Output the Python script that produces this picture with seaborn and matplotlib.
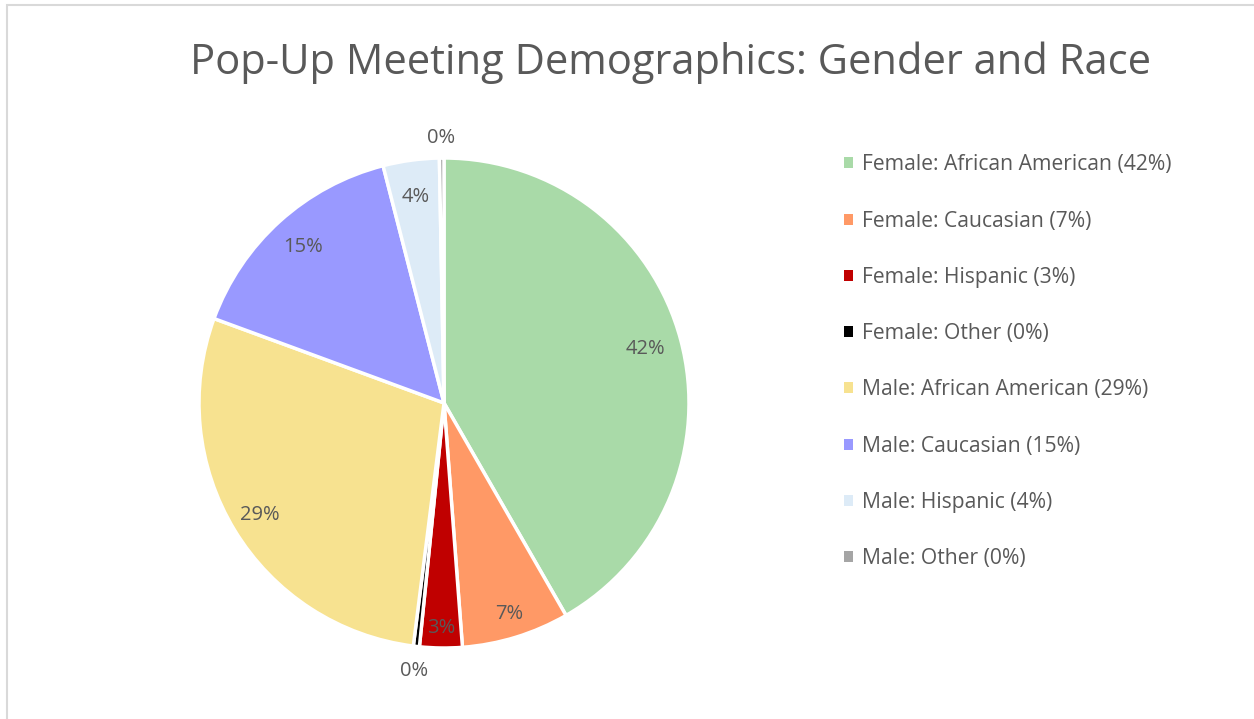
import numpy as np
import matplotlib
matplotlib.use('Agg')
import matplotlib.pyplot as plt
import matplotlib.patches as mpatches
import seaborn as sns

# --- data ---
categories = ['Female: African American', 'Female: Caucasian', 'Female: Hispanic',
              'Female: Other', 'Male: African American', 'Male: Caucasian',
              'Male: Hispanic', 'Male: Other']
shares = [41.7, 7.1, 2.8, 0.4, 28.6, 15.4, 3.7, 0.3]
slice_colors = ['#A9DAA8', '#FF9966', '#C00000', '#000000',
                '#F7E290', '#9999FF', '#DDEBF7', '#A5A5A5']
# how far out each percentage label sits (fraction of radius)
label_dist = [0.85, 0.90, 0.92, 1.10, 0.88, 0.86, 0.85, 1.08]

sns.set_theme(style='white')
plt.rcParams['font.family'] = ['Open Sans', 'DejaVu Sans']
text_color = '#595959'

fig = plt.figure(figsize=(12.54, 7.19), dpi=100)
fig.patch.set_facecolor('white')

# chart border
fig.add_artist(mpatches.Rectangle((7 / 1254, -0.01), 1.0, 1.0 - 5 / 719 + 0.01,
                                  transform=fig.transFigure, fill=False,
                                  edgecolor='#D9D9D9', linewidth=1.5))

cx, cy, r = 444, 403, 245
ax = fig.add_axes([(cx - r) / 1254, (719 - cy - r) / 719, 2 * r / 1254, 2 * r / 719])

wedges, _ = ax.pie(shares, colors=slice_colors, startangle=90, counterclock=False,
                   wedgeprops=dict(edgecolor='white', linewidth=2.5))
ax.set_xlim(-1, 1)
ax.set_ylim(-1, 1)
ax.set_aspect('equal')
ax.axis('off')

total = sum(shares)
pct_labels = [f'{round(v / total * 100):.0f}%' for v in shares]
for w, lab, d in zip(wedges, pct_labels, label_dist):
    mid = np.deg2rad((w.theta1 + w.theta2) / 2)
    ax.text(d * np.cos(mid), d * np.sin(mid), lab, ha='center', va='center',
            fontsize=14.5, color=text_color, clip_on=False)

fig.text(0.535, 0.913, 'Pop-Up Meeting Demographics: Gender and Race',
         ha='center', va='center', fontsize=30, color=text_color)

handles = [mpatches.Patch(facecolor=c, edgecolor='none') for c in slice_colors]
legend_labels = [f'{c} ({p})' for c, p in zip(categories, pct_labels)]
leg = fig.legend(handles, legend_labels, loc='upper left', bbox_to_anchor=(0.666, 0.797),
                 frameon=False, fontsize=15.2, handlelength=0.43, handleheight=0.43,
                 handletextpad=0.43, labelspacing=1.67, borderaxespad=0)
for t in leg.get_texts():
    t.set_color(text_color)

fig.savefig('out.png', dpi=100, facecolor='white')
